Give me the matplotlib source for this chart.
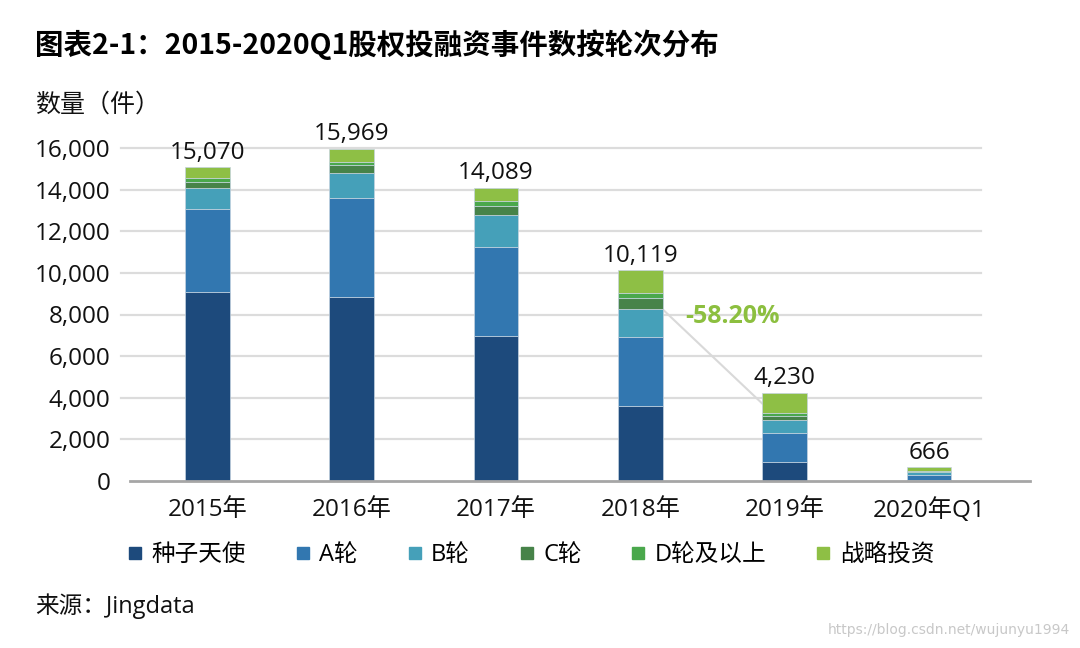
import matplotlib
matplotlib.use("Agg")
import matplotlib.pyplot as plt
from matplotlib.lines import Line2D
import numpy as np

plt.rcParams['font.family'] = ['Open Sans', 'Noto Sans CJK SC', 'DejaVu Sans']

# data
categories = ['2015年', '2016年', '2017年', '2018年', '2019年', '2020年Q1']
seed = [9100, 8860, 6990, 3620, 930, 60]
round_a = [3980, 4730, 4270, 3320, 1390, 250]
round_b = [1000, 1230, 1530, 1310, 610, 100]
round_c = [300, 340, 400, 530, 210, 30]
round_d = [160, 190, 270, 270, 110, 20]
strategic = [530, 620, 630, 1070, 980, 206]
totals = [15070, 15969, 14089, 10119, 4230, 666]
series_names = ['种子天使', 'A轮', 'B轮', 'C轮', 'D轮及以上', '战略投资']
colors = ['#1d4a7c', '#3277b0', '#45a0b9', '#478349', '#4aa84c', '#8ebf45']
change_label = '-58.20%'

series = [seed, round_a, round_b, round_c, round_d, strategic]

fig = plt.figure(figsize=(10.8, 6.48), dpi=100)
ax = fig.add_axes([130 / 1080, 1 - 481 / 648, 900 / 1080, 333 / 648])

x = np.arange(len(categories))
bottom = np.zeros(len(categories))
for vals, col in zip(series, colors):
    ax.bar(x, vals, width=0.31, bottom=bottom, color=col,
           edgecolor='#c5d3e0', linewidth=0.5, zorder=3)
    bottom += np.array(vals)

# value labels
for xi, t in zip(x, totals):
    ax.text(xi, bottom[xi] + 120, f'{t:,}', ha='center', va='bottom',
            fontsize=17.5, color='#111111', clip_on=False)

ax.set_xlim(-0.535, 5.7)
ax.set_ylim(0, 16000)

# gridlines stop short of the axis end
for yv in range(2000, 16001, 2000):
    ax.plot([-0.6, 5.36], [yv, yv], color='#dcdcdc', lw=1.6, zorder=1, clip_on=False)

# connector line 2018 -> 2019
cum_b_2018 = seed[3] + round_a[3] + round_b[3]
ax.plot([3 + 0.155, 4 - 0.155], [cum_b_2018, totals[4] * 0.88],
        color='#d9d9d9', lw=1.5, zorder=2)
ax.text(3.64, 7900, change_label, ha='center', va='center', fontsize=18,
        fontweight='bold', color='#8cbf3f')

for s in ['top', 'right', 'left']:
    ax.spines[s].set_visible(False)
ax.spines['bottom'].set_color('#a6a6a6')
ax.spines['bottom'].set_linewidth(2)
ax.spines['bottom'].set_zorder(4)

ax.set_yticks(range(0, 16001, 2000))
ax.set_yticklabels([f'{v:,}' for v in range(0, 16001, 2000)])
ax.set_xticks(x)
ax.set_xticklabels(categories)
ax.tick_params(axis='y', length=0, pad=14, labelsize=17.5, labelcolor='#111111')
ax.tick_params(axis='x', length=0, pad=12, labelsize=17.5, labelcolor='#111111')

fig.text(35 / 1080, 1 - 45 / 648, '图表2-1：2015-2020Q1股权投融资事件数按轮次分布',
         fontsize=20.5, fontweight='bold', va='center', ha='left',
         family=['Noto Sans CJK SC'])
fig.text(35 / 1080, 1 - 105 / 648, '数量（件）', fontsize=18, va='center', ha='left',
         family=['Noto Sans CJK SC'], color='#111111')
fig.text(35 / 1080, 1 - 606 / 648, '来源：Jingdata', fontsize=17, va='center', ha='left',
         color='#111111')
fig.text(1070 / 1080, 1 - 630 / 648, 'https://blog.csdn.net/wujunyu1994', fontsize=10,
         va='center', ha='right', color='#c8c8c8', family=['DejaVu Sans'])

handles = [Line2D([], [], marker='s', linestyle='none', markersize=8,
                  markerfacecolor=c, markeredgecolor=c) for c in colors]
fig.legend(handles, series_names, loc='center', bbox_to_anchor=(530 / 1080, 1 - 555 / 648),
           ncol=6, frameon=False, fontsize=17, handletextpad=0.3, columnspacing=2.0,
           handlelength=0.8)

fig.savefig('out.png', dpi=100)
